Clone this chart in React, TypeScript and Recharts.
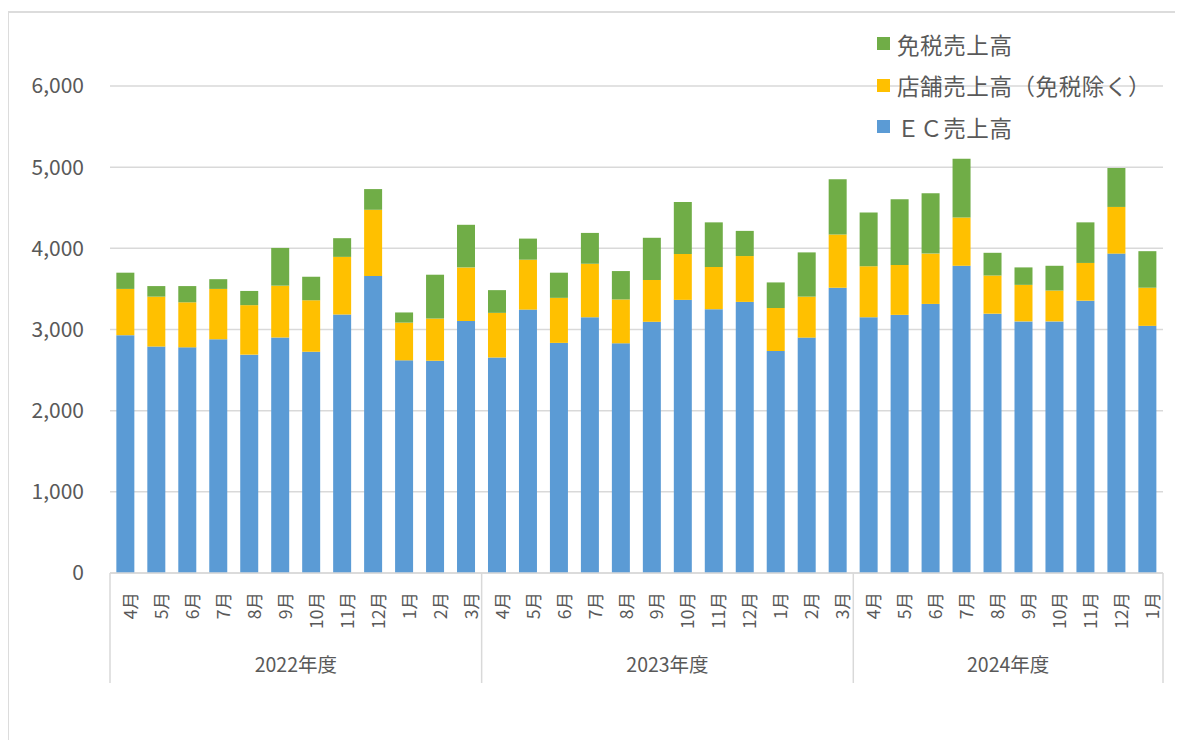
import React from 'react';
import {
  BarChart,
  Bar,
  XAxis,
  YAxis,
  CartesianGrid,
  Legend,
} from 'recharts';

// 月ラベル（年度ごと）
const months = [
  '4月', '5月', '6月', '7月', '8月', '9月', '10月', '11月', '12月', '1月', '2月', '3月',
  '4月', '5月', '6月', '7月', '8月', '9月', '10月', '11月', '12月', '1月', '2月', '3月',
  '4月', '5月', '6月', '7月', '8月', '9月', '10月', '11月', '12月', '1月',
];

const fiscalYears = ['2022年度', '2023年度', '2024年度'];
const monthsPerYear = [12, 12, 10];

const ecSales = [
  2930, 2790, 2780, 2880, 2690, 2900, 2725, 3185, 3660, 2620, 2615, 3105,
  2655, 3245, 2835, 3150, 2830, 3095, 3365, 3250, 3340, 2735, 2900, 3515,
  3150, 3180, 3315, 3785, 3195, 3100, 3100, 3355, 3935, 3045,
];

const storeSales = [
  570, 615, 555, 620, 610, 640, 635, 710, 815, 465, 520, 660,
  550, 615, 555, 660, 540, 515, 565, 520, 565, 530, 505, 655,
  630, 615, 620, 595, 470, 450, 380, 465, 575, 470,
];

const dutyFreeSales = [
  200, 130, 200, 120, 175, 465, 290, 230, 255, 125, 540, 525,
  280, 260, 310, 380, 350, 520, 640, 550, 310, 315, 545, 680,
  660, 810, 745, 725, 280, 215, 305, 500, 480, 450,
];

const yTicks = [0, 1000, 2000, 3000, 4000, 5000, 6000];

const COLORS = {
  ec: '#5B9BD5',
  store: '#FFC000',
  dutyFree: '#70AD47',
};

const legendItems = [
  { label: '免税売上高', color: COLORS.dutyFree },
  { label: '店舗売上高（免税除く）', color: COLORS.store },
  { label: 'ＥＣ売上高', color: COLORS.ec },
];

const FONT = "'Noto Sans CJK JP', 'Noto Sans', sans-serif";
const TEXT = '#595959';
const GRID = '#D9D9D9';

// 年度の開始インデックス
const groupStarts = monthsPerYear.map((_, i) =>
  monthsPerYear.slice(0, i).reduce((a, b) => a + b, 0)
);

const data = months.map((m, i) => ({
  key: `${i}`,
  month: m,
  ec: ecSales[i],
  store: storeSales[i],
  dutyFree: dutyFreeSales[i],
}));

function MonthTick(props: any) {
  const { x, y, payload, index } = props;
  const half = payload?.offset ?? 15.5;
  const axisTop = y - 19;
  const lineBottom = axisTop + 110;
  const g = groupStarts.indexOf(index);
  const isLast = index === months.length - 1;

  return (
    <g>
      <text
        x={x + 4}
        y={y}
        transform={`rotate(-90 ${x + 4} ${y})`}
        textAnchor="end"
        dominantBaseline="central"
        fontSize={17.5}
        fontFamily={FONT}
        fill={TEXT}
      >
        {months[index]}
      </text>
      {g >= 0 && (
        <>
          <line
            x1={x - half}
            x2={x - half}
            y1={axisTop}
            y2={lineBottom}
            stroke={GRID}
            strokeWidth={1.5}
          />
          <text
            x={x - half + monthsPerYear[g] * half}
            y={axisTop + 90}
            textAnchor="middle"
            dominantBaseline="central"
            fontSize={19.5}
            fontFamily={FONT}
            fill={TEXT}
          >
            {fiscalYears[g]}
          </text>
        </>
      )}
      {isLast && (
        <line
          x1={x + half}
          x2={x + half}
          y1={axisTop}
          y2={lineBottom}
          stroke={GRID}
          strokeWidth={1.5}
        />
      )}
    </g>
  );
}

function LegendContent() {
  return (
    <div style={{ fontFamily: FONT, color: TEXT }}>
      {legendItems.map((item) => (
        <div
          key={item.label}
          style={{
            display: 'flex',
            alignItems: 'center',
            height: 41.5,
            fontSize: 22.5,
            letterSpacing: 0.6,
            whiteSpace: 'nowrap',
          }}
        >
          <span
            style={{
              display: 'inline-block',
              width: 13,
              height: 13,
              background: item.color,
              marginRight: 7,
            }}
          />
          <span>{item.label}</span>
        </div>
      ))}
    </div>
  );
}

export default function App() {
  return (
    <div style={{ position: 'relative', width: 1175, height: 732 }}>
      <div
        style={{
          position: 'absolute',
          left: -1,
          top: 3,
          width: 1300,
          height: 900,
          borderLeft: '2px solid #DCDCDC',
          borderTop: '2px solid #DCDCDC',
        }}
      />
      <div style={{ position: 'absolute', left: 0, top: 0 }}>
        <BarChart
          width={1175}
          height={732}
          data={data}
          margin={{ top: 78, right: 20, left: 22, bottom: 47 }}
          barCategoryGap="20.5%"
        >
          <CartesianGrid vertical={false} stroke={GRID} strokeWidth={1.5} />
          <XAxis
            dataKey="key"
            interval={0}
            tickLine={false}
            axisLine={{ stroke: GRID, strokeWidth: 1.5 }}
            tick={<MonthTick />}
            tickMargin={13}
            height={120}
          />
          <YAxis
            width={80}
            domain={[0, 6000]}
            ticks={yTicks}
            tickFormatter={(v: number) => v.toLocaleString('en-US')}
            tickLine={false}
            axisLine={false}
            tickMargin={20}
            tick={{ fontSize: 21, fill: TEXT, fontFamily: FONT }}
          />
          <Legend
            layout="vertical"
            align="center"
            verticalAlign="middle"
            wrapperStyle={{ top: 15, left: 869, width: 320 }}
            content={<LegendContent />}
          />
          <Bar dataKey="ec" stackId="a" fill={COLORS.ec} isAnimationActive={false} />
          <Bar dataKey="store" stackId="a" fill={COLORS.store} isAnimationActive={false} />
          <Bar dataKey="dutyFree" stackId="a" fill={COLORS.dutyFree} isAnimationActive={false} />
        </BarChart>
      </div>
    </div>
  );
}
